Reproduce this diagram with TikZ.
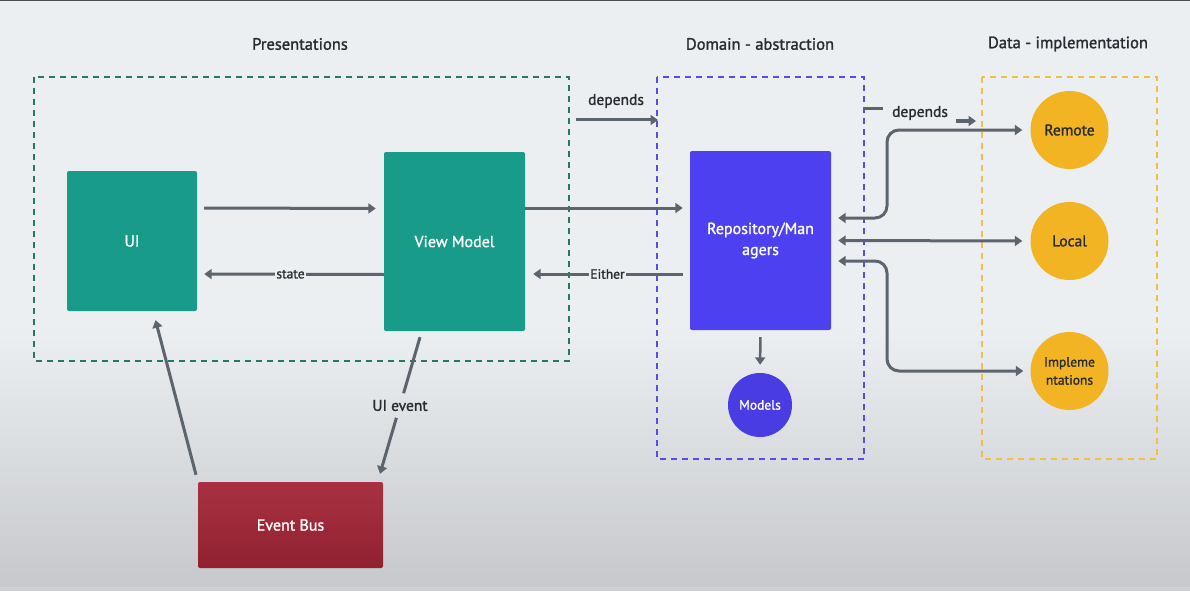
\documentclass[tikz,border=0pt]{standalone}
\usepackage{fontspec}
\setmainfont{PT Sans}[FakeBold=1.4]
\usetikzlibrary{arrows.meta,calc}
\definecolor{bg}{RGB}{236,239,242}
\definecolor{bgdark}{RGB}{198,200,203}
\definecolor{teal}{RGB}{24,155,136}
\definecolor{tealdash}{RGB}{40,120,96}
\definecolor{repoblue}{RGB}{77,64,240}
\definecolor{modblue}{RGB}{72,60,226}
\definecolor{bluedash}{RGB}{88,76,232}
\definecolor{yel}{RGB}{242,180,35}
\definecolor{yeldash}{RGB}{240,192,70}
\definecolor{red}{RGB}{164,38,55}
\definecolor{arrowc}{RGB}{92,100,110}
\definecolor{txt}{RGB}{40,44,50}
\tikzset{
  x=1pt,y=-1pt,
  grp/.style={line width=1.8pt,dash pattern=on 6pt off 5pt},
  rbox/.style={rectangle,rounded corners=2pt,inner sep=0pt,text=white,font=\fontsize{16}{18}\selectfont},
  ybub/.style={circle,fill=yel,inner sep=0pt,minimum size=78pt,text=txt,font=\fontsize{15.5}{17}\selectfont,align=center},
  ttl/.style={text=txt,font=\fontsize{16.5}{18}\selectfont},
  lbl/.style={text=txt,font=\fontsize{13.5}{15}\selectfont,fill=bg,inner sep=1.5pt},
  arr/.style={draw=arrowc,line width=3pt,-{Triangle[width=10pt,length=7.5pt]}},
  line/.style={draw=arrowc,line width=3pt},
  darr/.style={draw=arrowc,line width=3pt,{Triangle[width=10pt,length=7.5pt]}-{Triangle[width=10pt,length=7.5pt]}},
}
\begin{document}
\begin{tikzpicture}
\useasboundingbox (0,0) rectangle (1190,591);
% background
\fill[bg] (0,0) rectangle (1190,330);
\shade[top color=bg,bottom color=bgdark] (0,330) rectangle (1190,587);
\fill[bgdark!85!white] (0,587) rectangle (1190,591);
\fill[black!70] (0,0) rectangle (1190,1.5);

% titles
\node[ttl] (tpres) at (300,44) {Presentations};
\node[ttl] (tdom) at (760,44) {Domain - abstraction};
\node[ttl] (tdata) at (1068,44) {Data - implementation};

% group boxes
\draw[grp,draw=tealdash] (34,77) rectangle (569,361);
\draw[grp,draw=bluedash] (657,77) rectangle (864,459);
\draw[grp,draw=yeldash] (982,77) rectangle (1157,459);

% nodes
\node[rbox,fill=teal,minimum width=130pt,minimum height=140pt] (ui) at (132,241) {UI};
\node[rbox,fill=teal,minimum width=141pt,minimum height=179pt] (vm) at (454.5,241.5) {View Model};
\node[rbox,fill=repoblue,minimum width=141pt,minimum height=179pt,align=center] (repo) at (760.5,240.5) {Repository/Man\\[3pt]agers};
\node[circle,fill=modblue,minimum size=64pt,inner sep=0pt,text=white,font=\fontsize{13.5}{15}\selectfont] (models) at (760,405) {Models};
\node[rbox,minimum width=185pt,minimum height=86pt,top color=red!95!white,bottom color=red!88!black] (eb) at (290.5,525) {Event Bus};
\node[ybub] (remote) at (1069.5,130) {Remote};
\node[ybub] (local) at (1069.5,241) {Local};
\node[ybub,font=\fontsize{13.5}{18}\selectfont] (impl) at (1069.5,371) {Impleme\\ntations};

% presentation arrows
\draw[arr,shorten <=7pt,shorten >=8pt] ($(ui.east)+(0,-33)$) -- ($(vm.west)+(0,-33)$);
\draw[arr,shorten >=7pt] ($(vm.west)+(0,33)$) -- node[lbl] (lstate) {state} ($(ui.east)+(0,33)$);
\draw[arr,shorten >=7pt] ($(vm.east)+(0,-33.5)$) -- ($(repo.west)+(0,-32.5)$);
\draw[arr,shorten <=7pt,shorten >=8pt] ($(repo.west)+(0,33.5)$) -- node[lbl] (leither) {Either} ($(vm.east)+(0,32.5)$);

% depends 1
\coordinate (d1a) at (576,120);
\coordinate (d1b) at (658,120);
\draw[arr] (d1a) -- (d1b);
\node[text=txt,font=\fontsize{15.5}{17}\selectfont] (ldep1) at (616,101) {depends};

% depends 2
\coordinate (d2a) at (864,109);
\coordinate (d2b) at (883,109);
\coordinate (d2c) at (956,121);
\coordinate (d2d) at (976,121);
\draw[line] (d2a) -- (d2b);
\node[text=txt,font=\fontsize{15.5}{17}\selectfont] (ldep2) at (920,113) {depends};
\draw[arr] (d2c) -- (d2d);

% data arrows
\draw[darr,rounded corners=12pt,shorten <=7pt,shorten >=8pt] ($(repo.east)+(0,-22.5)$) -- (887,218) -- (887,130) -- (remote.west);
\draw[darr,shorten <=7pt,shorten >=8pt] (repo.east) -- (local.west);
\draw[darr,rounded corners=12pt,shorten <=7pt,shorten >=7pt] ($(repo.east)+(0,20.5)$) -- (887,261) -- (887,371) -- (impl.west);

% repo to models
\draw[arr,draw=arrowc,line width=2.5pt,shorten <=7pt,shorten >=8pt] (repo.south) -- (models.north);

% event bus loop
\coordinate (ueA) at ($(vm.south)+(-34.5,6)$);
\coordinate (ueB) at ($(eb.north)+(89.5,-8)$);
\draw[line] (ueA) -- ($(ueA)!0.41!(ueB)$);
\draw[arr] ($(ueA)!0.59!(ueB)$) -- (ueB);
\node[text=txt,font=\fontsize{15.5}{17}\selectfont] (luie) at ($(ueA)!0.5!(ueB)$) {UI event};
\draw[arr] ($(eb.north)+(-94.5,-7)$) -- ($(ui.south)+(23.5,9)$);
\end{tikzpicture}
\end{document}
